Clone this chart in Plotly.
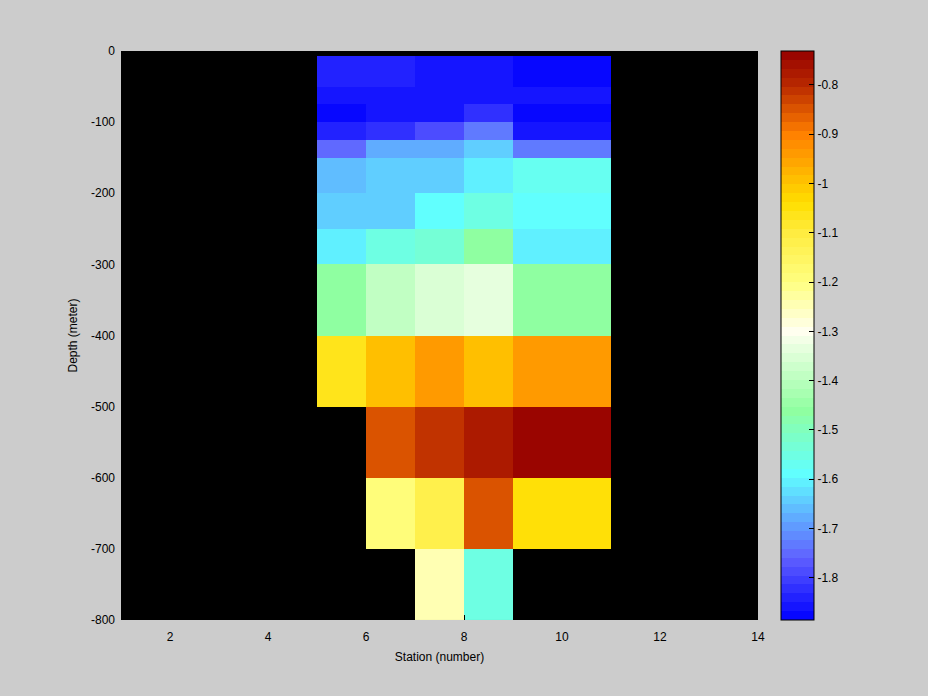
import plotly.graph_objects as go
import numpy as np

# ---- data ----
station_edges = [5, 6, 7, 8, 9, 11]
depth_edges = [-7, -50, -75, -100, -125, -150, -200, -250, -300, -400, -500, -600, -700, -800]
# rows from top (shallow) to bottom (deep); columns = station cells
r01 = [-1.84, -1.84, -1.856, -1.856, -1.874]
r02 = [-1.856, -1.856, -1.856, -1.856, -1.86]
r03 = [-1.877, -1.856, -1.856, -1.815, -1.886]
r04 = [-1.846, -1.815, -1.78, -1.73, -1.852]
r05 = [-1.755, -1.675, -1.675, -1.635, -1.73]
r06 = [-1.665, -1.635, -1.635, -1.60, -1.57]
r07 = [-1.635, -1.635, -1.585, -1.55, -1.585]
r08 = [-1.60, -1.55, -1.53, -1.47, -1.615]
r09 = [-1.47, -1.39, -1.36, -1.34, -1.47]
r10 = [-1.06, -0.99, -0.94, -0.99, -0.94]
r11 = [None, -0.85, -0.82, -0.78, -0.735]
r12 = [None, -1.20, -1.12, -0.85, -1.05]
r13 = [None, None, -1.24, -1.55, None]
rows = [r01, r02, r03, r04, r05, r06, r07, r08, r09, r10, r11, r12, r13]

cmin, cmax = -1.886, -0.731
cbar_ticks = [-1.8, -1.7, -1.6, -1.5, -1.4, -1.3, -1.2, -1.1, -1.0, -0.9, -0.8]
cbar_labels = ["-1.8", "-1.7", "-1.6", "-1.5", "-1.4", "-1.3", "-1.2", "-1.1", "-1", "-0.9", "-0.8"]
yticks = [0, -100, -200, -300, -400, -500, -600, -700, -800]
ylabels = ["0", "-100", "-200", "-300", "-400", "-500", "-600", "-700", "-800"]
xticks = [2, 4, 6, 8, 10, 12, 14]

# colormap anchors (value, rgb)
anchors = [
    (-1.886, (0, 0, 255)),
    (-1.76, (96, 96, 255)),
    (-1.59, (96, 255, 255)),
    (-1.46, (144, 255, 160)),
    (-1.30, (255, 255, 240)),
    (-1.20, (255, 255, 128)),
    (-1.10, (255, 236, 64)),
    (-1.04, (255, 222, 0)),
    (-1.00, (255, 196, 0)),
    (-0.90, (255, 128, 0)),
    (-0.80, (184, 40, 0)),
    (-0.731, (150, 0, 0)),
]
av = np.array([a[0] for a in anchors])
ac = np.array([a[1] for a in anchors], dtype=float)

N = 64
colorscale = []
for i in range(N):
    vmid = cmin + (i + 0.5) * (cmax - cmin) / N
    rgb = [int(round(np.interp(vmid, av, ac[:, k]))) for k in range(3)]
    c = f"rgb({rgb[0]},{rgb[1]},{rgb[2]})"
    colorscale.append([i / N, c])
    colorscale.append([(i + 1) / N, c])

# ascending y order for plotly
z = rows[::-1]
y_edges = depth_edges[::-1]

font = "Liberation Sans, Arial, sans-serif"

fig = go.Figure(go.Heatmap(
    x=station_edges, y=y_edges, z=z,
    zmin=cmin, zmax=cmax, colorscale=colorscale,
    hoverongaps=False,
    colorbar=dict(
        thickness=33, thicknessmode="pixels",
        len=1, lenmode="fraction", y=0, yanchor="bottom", ypad=0,
        x=(781 - 121) / 637, xanchor="left", xpad=0,
        outlinecolor="black", outlinewidth=1,
        tickvals=cbar_ticks, ticktext=cbar_labels,
        ticks="inside", ticklen=5, tickcolor="black",
        tickfont=dict(family=font, size=12, color="black"),
    ),
))

fig.update_layout(
    width=928, height=696,
    margin=dict(l=121, r=170, t=51, b=76),
    paper_bgcolor="#cccccc", plot_bgcolor="black",
    font=dict(family=font, size=12, color="black"),
    xaxis=dict(range=[1, 14], tickvals=xticks, ticks="inside", ticklen=5,
               tickcolor="black", showgrid=False, zeroline=False,
               ticklabelstandoff=8,
               title=dict(text="Station (number)", standoff=9,
                          font=dict(family=font, size=12))),
    yaxis=dict(range=[-800, 0], tickvals=yticks, ticktext=ylabels, ticks="inside",
               ticklen=5, tickcolor="black", showgrid=False, zeroline=False,
               ticklabelstandoff=5,
               title=dict(text="Depth (meter)", standoff=10,
                          font=dict(family=font, size=12))),
)

fig.write_html("out.html", config={"displayModeBar": False},
               post_script="document.body.style.margin='0';document.body.style.background='#cccccc';")
